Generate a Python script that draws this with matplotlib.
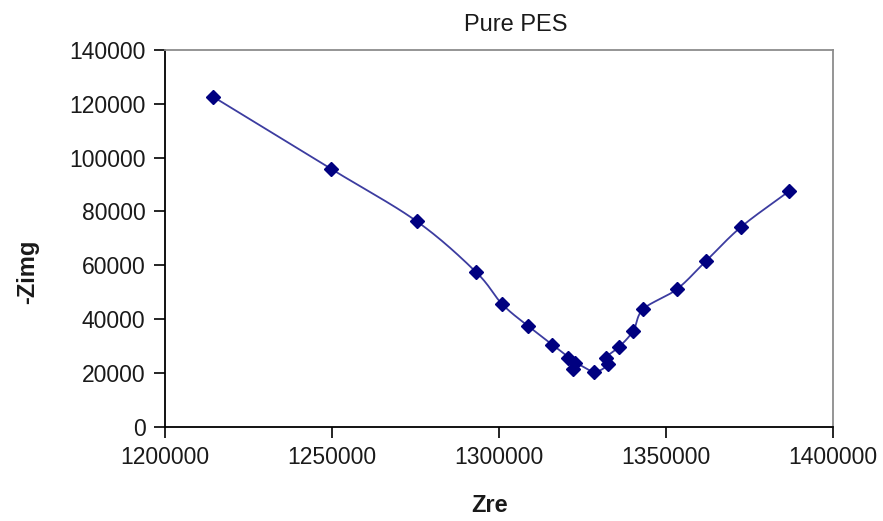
import numpy as np
import matplotlib
matplotlib.use("Agg")
import matplotlib.pyplot as plt

plt.rcParams['font.family'] = ['Liberation Sans', 'DejaVu Sans']

# Impedance data for pure PES
z_re = [1214300, 1249600, 1275400, 1293100, 1300900, 1308700, 1315900,
        1320750, 1322060, 1322750, 1328530, 1332730, 1331940, 1336020,
        1340210, 1343200, 1353200, 1361980, 1372550, 1386920]
z_img = [122700, 95900, 76300, 57500, 45600, 37400, 30500,
         25640, 21440, 23780, 20440, 23190, 25640, 29730,
         35680, 43740, 51060, 61580, 74320, 87590]

x_ticks = [1200000, 1250000, 1300000, 1350000, 1400000]
y_ticks = [0, 20000, 40000, 60000, 80000, 100000, 120000, 140000]


def smooth_curve(xs, ys, xspan, yspan, n=30):
    """Catmull-Rom spline through the points, computed in normalised space."""
    p = np.column_stack([np.asarray(xs, float) / xspan, np.asarray(ys, float) / yspan])
    p = np.vstack([p[0] * 2 - p[1], p, p[-1] * 2 - p[-2]])
    out = []
    t = np.linspace(0, 1, n, endpoint=False)[:, None]
    for i in range(1, len(p) - 2):
        p0, p1, p2, p3 = p[i - 1], p[i], p[i + 1], p[i + 2]
        seg = 0.5 * ((2 * p1) + (-p0 + p2) * t + (2 * p0 - 5 * p1 + 4 * p2 - p3) * t ** 2
                     + (-p0 + 3 * p1 - 3 * p2 + p3) * t ** 3)
        out.append(seg)
    out.append(p[-2][None, :])
    out = np.vstack(out)
    return out[:, 0] * xspan, out[:, 1] * yspan


fig = plt.figure(figsize=(8.83, 5.21), dpi=100)
ax = fig.add_axes([0.1869, 0.181, 0.9434 - 0.1869, 0.904 - 0.181])

sx, sy = smooth_curve(z_re, z_img, 200000, 140000)
ax.plot(sx, sy, color='#3c3ca0', lw=1.3, zorder=2)
ax.plot(z_re, z_img, linestyle='none', marker='D', markersize=7.5,
        color='#000080', markeredgecolor='#000080', zorder=3)

ax.set_xlim(1200000, 1400000)
ax.set_ylim(0, 140000)
ax.set_xticks(x_ticks)
ax.set_yticks(y_ticks)
ax.set_xticklabels([str(v) for v in x_ticks])
ax.set_yticklabels([str(v) for v in y_ticks])
ax.tick_params(direction='out', length=8, width=1.2, color='black',
               labelsize=16.5, pad=6, labelcolor='#1a1a1a')

for side in ('left', 'bottom'):
    ax.spines[side].set_color('black')
    ax.spines[side].set_linewidth(1.3)
for side in ('top', 'right'):
    ax.spines[side].set_color('#8c8c8c')
    ax.spines[side].set_linewidth(1.3)

fig.text(516 / 883, 1 - 25 / 521, 'Pure PES', ha='center', va='center',
         fontsize=17, color='#1a1a1a')
fig.text(490 / 883, 1 - 506 / 521, 'Zre', ha='center', va='center',
         fontsize=17, fontweight='bold', color='#1a1a1a')
fig.text(28 / 883, 1 - 272 / 521, '-Zimg', ha='center', va='center',
         fontsize=17, fontweight='bold', rotation=90, color='#1a1a1a')

fig.savefig('out.png', dpi=100)
